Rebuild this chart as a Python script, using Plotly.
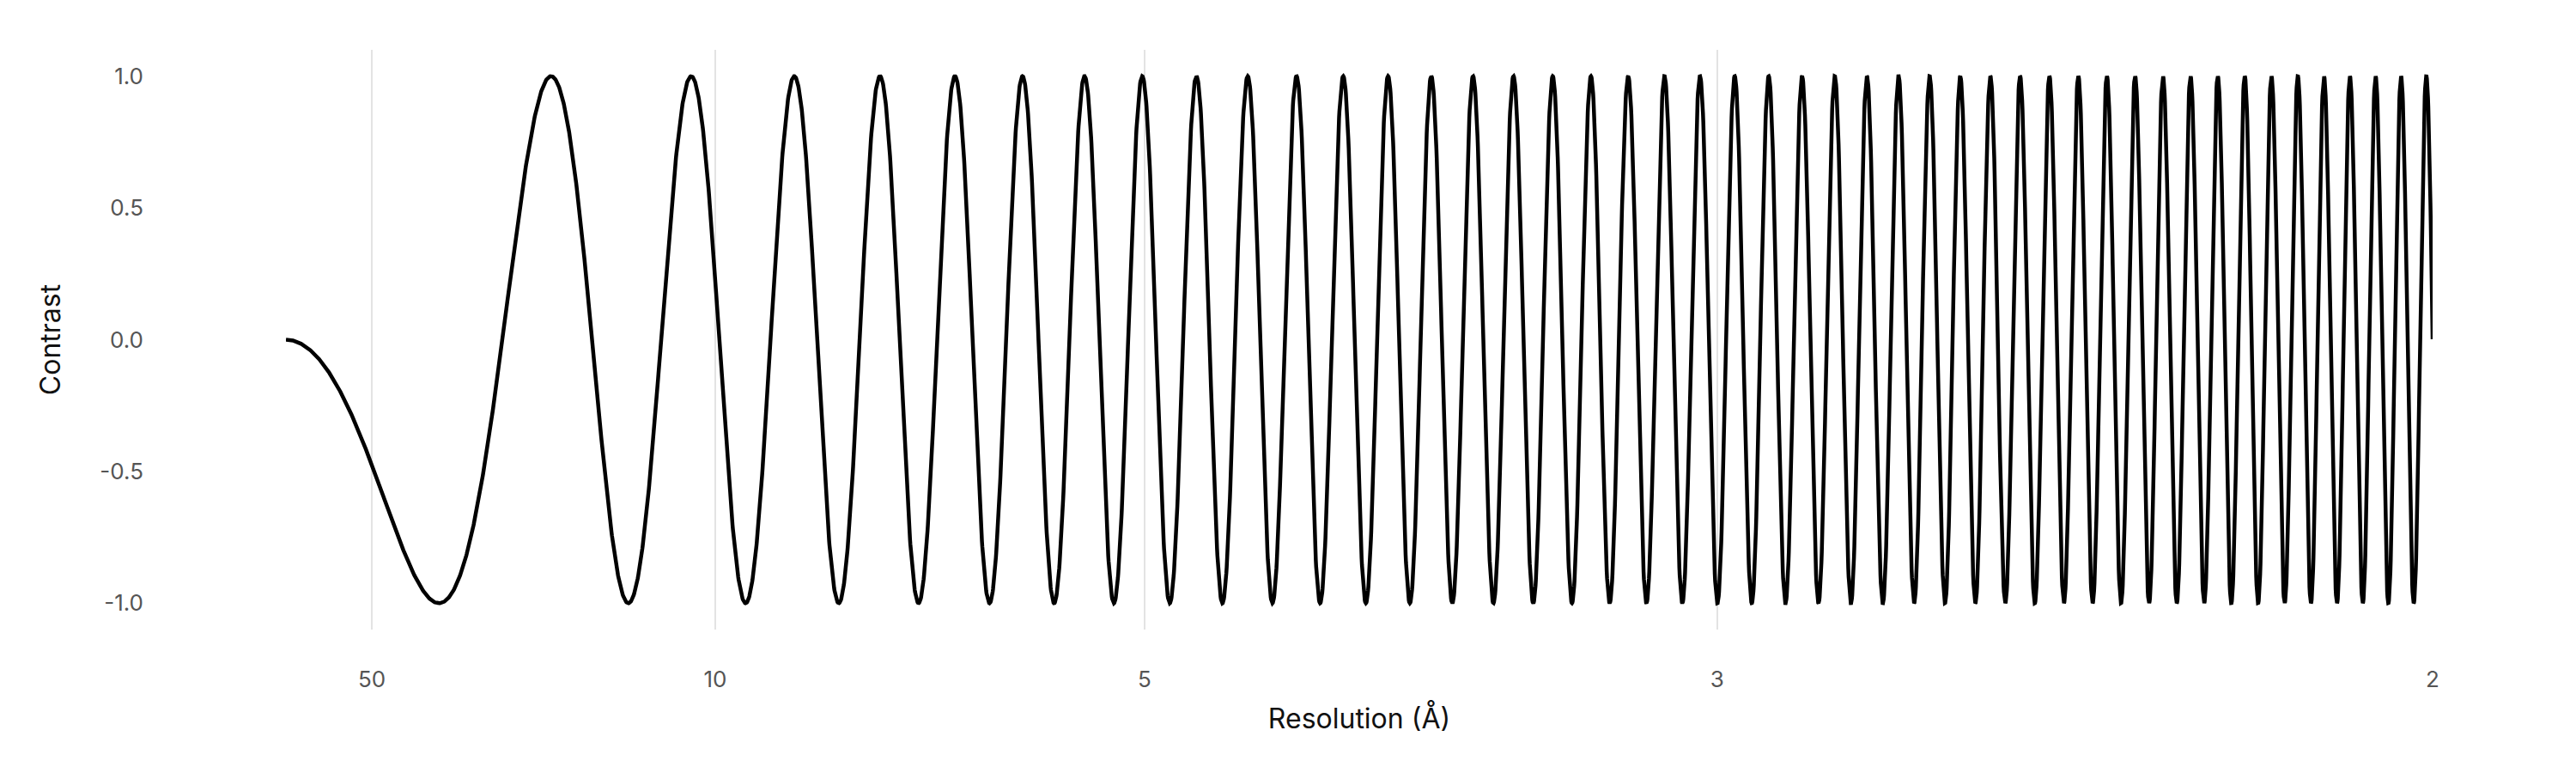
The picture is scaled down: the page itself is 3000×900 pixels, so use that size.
import numpy as np
import plotly.graph_objects as go

# Microscope parameters (zeros / extrema positions)
voltage_kv = [300.0]
cs_mm = [2.7]
defocus_um = [2.0]
amplitude_contrast = [0.0]
freq_max = [0.5]

# Tick positions (spatial frequency, 1/Å) and labels (resolution, Å)
tick_resolutions = [50, 10, 5, 3, 2]
tick_labels = ["50", "10", "5", "3", "2"]
y_tick_values = [-1.0, -0.5, 0.0, 0.5, 1.0]
y_tick_labels = ["-1.0", "-0.5", "0.0", "0.5", "1.0"]

# CTF curve
V = voltage_kv[0] * 1e3
lam = 12.2643 / np.sqrt(V * (1 + 0.97845e-6 * V))  # Å
cs = cs_mm[0] * 1e7  # Å
dz = defocus_um[0] * 1e4  # Å
k = np.linspace(0, freq_max[0], 6000)
chi = np.pi * lam * dz * k**2 - 0.5 * np.pi * cs * lam**3 * k**4
w = amplitude_contrast[0]
ctf = -(np.sqrt(1 - w**2) * np.sin(chi) + w * np.cos(chi))

fig = go.Figure()
fig.add_trace(go.Scatter(x=k, y=ctf, mode="lines",
                         line=dict(color="black", width=4.5),
                         hoverinfo="skip", showlegend=False))

font_family = "Inter, 'Noto Sans', sans-serif"
fig.update_layout(
    width=3000, height=900,
    margin=dict(l=325, r=175, t=50, b=175),
    paper_bgcolor="white", plot_bgcolor="white",
    font=dict(family=font_family, size=26, color="#555555"),
    xaxis=dict(
        range=[0, freq_max[0]],
        tickvals=[1.0 / r for r in tick_resolutions],
        ticktext=tick_labels,
        showgrid=True, gridcolor="#e3e3e3", gridwidth=2,
        zeroline=False, showline=False, ticks="",
        ticklabelstandoff=40,
        tickfont=dict(size=26, color="#555555"),
        title=dict(text="Resolution (Å)", standoff=20,
                   font=dict(size=32, color="#111111")),
    ),
    yaxis=dict(
        range=[-1.1, 1.1],
        tickvals=y_tick_values,
        ticktext=y_tick_labels,
        showgrid=False, zeroline=False, showline=False, ticks="",
        ticklabelstandoff=165,
        tickfont=dict(size=26, color="#555555"),
        title=dict(text="Contrast", standoff=36,
                   font=dict(size=32, color="#111111")),
    ),
)

fig.write_html("out.html")
